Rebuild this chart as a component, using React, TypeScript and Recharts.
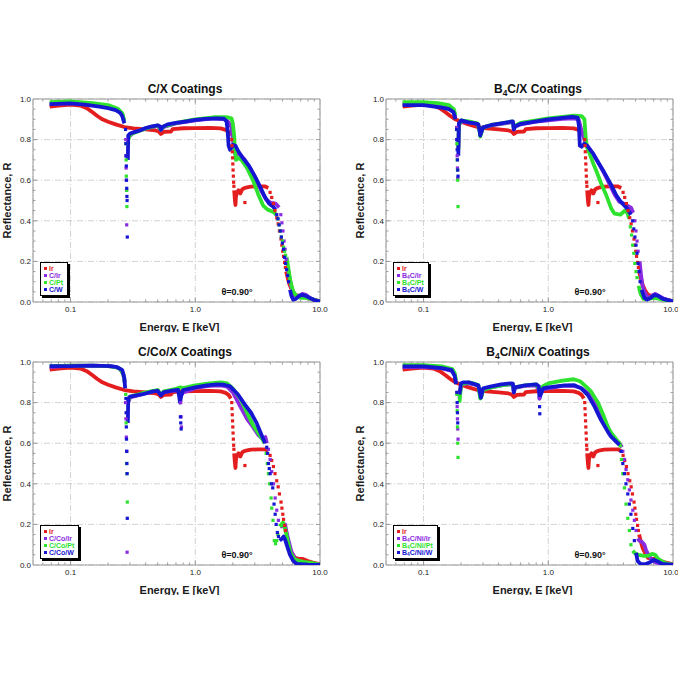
import React from 'react';
import {
  ComposedChart, Line, Scatter, XAxis, YAxis, CartesianGrid,
  ReferenceLine, ReferenceArea, Legend,
} from 'recharts';

type P = [number, number | null];

// ---------- axes (energies in keV; the x axis is drawn in log10 units) ----------
const X_MIN = 0.05;
const X_MAX = 10;
const X_TICKS = [0.1, 1, 10];
const X_TICK_LABELS = ['0.1', '1.0', '10.0'];
const Y_TICKS = [0, 0.2, 0.4, 0.6, 0.8, 1.0];
const X_MINOR = [0.06, 0.07, 0.08, 0.09, 0.2, 0.3, 0.4, 0.5, 0.6, 0.7, 0.8, 0.9, 2, 3, 4, 5, 6, 7, 8, 9];
const Y_MINOR = [0.05, 0.1, 0.15, 0.25, 0.3, 0.35, 0.45, 0.5, 0.55, 0.65, 0.7, 0.75, 0.85, 0.9, 0.95];
const Y_MAJOR_INNER = [0.2, 0.4, 0.6, 0.8];

const RED = '#e41e1e';
const PURPLE = '#8a2be2';
const GREEN = '#2ee22e';
const BLUE = '#1616d2';

// ---------- shared Ir reference ----------
const irLine: P[] = [
  [0.068, 0.962], [0.08, 0.968], [0.1, 0.972], [0.12, 0.968], [0.135, 0.955], [0.15, 0.935], [0.165, 0.915],
  [0.18, 0.9], [0.2, 0.888], [0.23, 0.875], [0.27, 0.862], [0.32, 0.855], [0.4, 0.85], [0.48, 0.845], [0.51, 0.84],
  [0.53, 0.828], [0.56, 0.838], [0.64, 0.84], [0.66, 0.852], [0.8, 0.856], [1.0, 0.857], [1.3, 0.858], [1.6, 0.855],
  [1.75, 0.848], [1.85, 0.838], [1.93, 0.82], [1.96, null],
  [2.05, 0.55], [2.08, 0.5], [2.1, 0.478], [2.12, 0.52], [2.16, 0.54], [2.22, 0.55], [2.3, 0.535], [2.38, 0.555],
  [2.45, 0.56], [2.6, 0.565], [2.8, 0.568], [3.2, 0.57], [3.6, 0.57], [3.85, 0.562], [3.95, null],
  [5.35, 0.15], [5.5, 0.12], [5.7, 0.085], [6.0, 0.055], [6.3, 0.035], [6.8, 0.03], [7.3, 0.03], [8.0, 0.02],
  [9.0, 0.01], [10, 0.004],
];
const irDots: P[] = [
  [1.96, 0.8], [1.97, 0.77], [1.98, 0.74], [1.99, 0.71], [2.0, 0.68], [2.01, 0.65], [2.02, 0.62], [2.03, 0.59],
  [2.04, 0.57], [2.5, 0.49], [3.98, 0.54], [4.1, 0.515], [4.23, 0.485], [4.36, 0.45], [4.5, 0.415], [4.62, 0.385],
  [4.73, 0.35], [4.87, 0.31], [4.95, 0.28], [5.03, 0.25], [5.1, 0.225], [5.2, 0.195], [5.28, 0.17],
];

// ---------- C/X ----------
const cIrLine: P[] = [
  [0.068, 0.975], [0.1, 0.98], [0.15, 0.972], [0.2, 0.96], [0.24, 0.945], [0.26, 0.925], [0.27, 0.89], [0.275, null],
  [0.29, 0.81], [0.32, 0.835], [0.4, 0.855], [0.5, 0.868], [0.53, 0.848], [0.56, 0.862], [0.7, 0.88], [1.0, 0.895],
  [1.4, 0.905], [1.75, 0.9], [1.85, 0.885], [1.95, 0.86], [2.0, 0.8], [2.05, 0.76], [2.1, 0.73], [2.25, 0.73],
  [2.5, 0.7], [2.8, 0.65], [3.1, 0.6], [3.4, 0.545], [3.7, 0.505], [4.0, 0.49], [4.4, 0.485], [4.7, 0.465], [4.8, null],
  [5.5, 0.17], [5.7, 0.12], [5.9, 0.075], [6.1, 0.05], [6.4, 0.03], [6.8, 0.028], [7.2, 0.04], [7.7, 0.035],
  [8.3, 0.02], [9, 0.01], [10, 0.003],
];
const cIrDots: P[] = [
  [0.277, 0.8], [0.278, 0.72], [0.279, 0.66], [0.28, 0.6], [0.281, 0.55], [0.282, 0.38],
  [4.85, 0.43], [4.95, 0.39], [5.05, 0.35], [5.15, 0.3], [5.25, 0.26], [5.35, 0.21],
];
const cPtLine: P[] = [
  [0.068, 0.985], [0.1, 0.988], [0.15, 0.98], [0.2, 0.97], [0.24, 0.952], [0.26, 0.93], [0.27, 0.89], [0.275, null],
  [0.29, 0.8], [0.3, 0.825], [0.4, 0.855], [0.5, 0.87], [0.53, 0.85], [0.56, 0.865], [0.7, 0.882], [1.0, 0.9],
  [1.4, 0.91], [1.8, 0.91], [1.95, 0.905], [2.0, 0.88], [2.05, 0.82], [2.08, 0.74], [2.12, 0.7], [2.2, 0.71],
  [2.35, 0.7], [2.6, 0.66], [2.9, 0.6], [3.2, 0.53], [3.5, 0.475], [3.8, 0.455], [4.2, 0.445], [4.45, 0.43], [4.55, null],
  [5.4, 0.22], [5.6, 0.16], [5.8, 0.1], [6.1, 0.05], [6.5, 0.03], [7.0, 0.02], [7.6, 0.02], [8.5, 0.015],
  [9.3, 0.008], [10, 0.003],
];
const cPtDots: P[] = [
  [0.277, 0.78], [0.279, 0.7], [0.28, 0.62], [0.282, 0.55], [0.283, 0.47],
  [4.6, 0.41], [4.7, 0.38], [4.8, 0.35], [4.9, 0.32], [5.0, 0.3], [5.1, 0.27], [5.2, 0.25], [5.3, 0.23],
];
const cWLine: P[] = [
  [0.068, 0.975], [0.1, 0.978], [0.13, 0.972], [0.17, 0.962], [0.2, 0.955], [0.23, 0.945], [0.25, 0.932],
  [0.26, 0.915], [0.27, 0.88], [0.275, null], [0.288, 0.7], [0.29, 0.82], [0.3, 0.83], [0.33, 0.838], [0.36, 0.845],
  [0.4, 0.857], [0.45, 0.865], [0.5, 0.87], [0.52, 0.866], [0.53, 0.848], [0.545, 0.862], [0.6, 0.875], [0.7, 0.882],
  [0.85, 0.89], [1.0, 0.897], [1.2, 0.902], [1.5, 0.905], [1.7, 0.903], [1.78, 0.89], [1.82, 0.84], [1.85, 0.77],
  [1.9, 0.75], [1.95, 0.76], [2.0, 0.775], [2.1, 0.77], [2.2, 0.745], [2.4, 0.71], [2.7, 0.67], [3.0, 0.62],
  [3.3, 0.57], [3.6, 0.52], [3.9, 0.485], [4.2, 0.47], [4.4, 0.455], [4.45, null],
  [5.75, 0.06], [5.9, 0.03], [6.1, 0.012], [6.4, 0.015], [6.8, 0.03], [7.2, 0.035], [7.7, 0.03], [8.3, 0.02],
  [9, 0.01], [10, 0.003],
];
const cWDots: P[] = [
  [0.276, 0.85], [0.278, 0.78], [0.279, 0.72], [0.28, 0.67], [0.281, 0.6], [0.282, 0.56], [0.283, 0.52],
  [0.284, 0.5], [0.285, 0.32],
  [4.5, 0.43], [4.6, 0.41], [4.7, 0.38], [4.8, 0.35], [4.9, 0.32], [5.0, 0.29], [5.1, 0.26], [5.2, 0.22],
  [5.3, 0.19], [5.4, 0.16], [5.5, 0.13], [5.6, 0.1],
];

// ---------- B4C/X ----------
const bIrLine: P[] = [
  [0.068, 0.98], [0.1, 0.978], [0.13, 0.972], [0.16, 0.96], [0.175, 0.94], [0.18, 0.91], [0.183, null],
  [0.19, 0.76], [0.192, 0.87], [0.2, 0.89], [0.23, 0.885], [0.27, 0.878], [0.28, 0.855], [0.285, 0.825],
  [0.29, 0.835], [0.3, 0.86], [0.35, 0.87], [0.42, 0.878], [0.5, 0.885], [0.52, 0.886], [0.53, 0.85],
  [0.545, 0.865], [0.6, 0.875], [0.8, 0.888], [1.0, 0.895], [1.3, 0.902], [1.6, 0.905], [1.75, 0.9], [1.82, 0.86],
  [1.9, 0.82], [2.0, 0.78], [2.1, 0.76], [2.2, 0.74], [2.5, 0.69], [2.8, 0.635], [3.1, 0.58], [3.4, 0.53],
  [3.7, 0.495], [4.0, 0.485], [4.3, 0.475], [4.6, 0.465], [4.8, 0.44], [4.9, null],
  [5.4, 0.2], [5.55, 0.13], [5.7, 0.08], [5.9, 0.05], [6.3, 0.02], [6.8, 0.03], [7.2, 0.04], [7.7, 0.03],
  [8.5, 0.015], [10, 0.003],
];
const bIrDots: P[] = [
  [0.184, 0.86], [0.185, 0.8], [0.186, 0.72], [0.187, 0.66], [0.188, 0.61],
  [4.95, 0.4], [5.05, 0.35], [5.15, 0.3], [5.25, 0.25],
];
const bPtLine: P[] = [
  [0.068, 0.985], [0.1, 0.985], [0.13, 0.98], [0.16, 0.97], [0.175, 0.95], [0.18, 0.92], [0.183, null],
  [0.19, 0.75], [0.192, 0.87], [0.2, 0.895], [0.23, 0.89], [0.27, 0.88], [0.28, 0.85], [0.285, 0.815],
  [0.29, 0.83], [0.3, 0.86], [0.35, 0.872], [0.42, 0.88], [0.5, 0.888], [0.52, 0.888], [0.53, 0.855],
  [0.545, 0.87], [0.6, 0.882], [0.8, 0.895], [1.0, 0.905], [1.3, 0.912], [1.6, 0.918], [1.85, 0.916],
  [1.95, 0.9], [2.0, 0.8], [2.05, 0.76], [2.15, 0.73], [2.3, 0.68], [2.45, 0.64], [2.65, 0.585], [2.9, 0.53],
  [3.2, 0.46], [3.4, 0.435], [3.8, 0.43], [4.1, 0.45], [4.3, 0.44], [4.45, 0.41], [4.5, null],
  [5.3, 0.08], [5.5, 0.04], [5.8, 0.015], [6.3, 0.015], [7.0, 0.02], [7.8, 0.015], [8.5, 0.01], [10, 0.003],
];
const bPtDots: P[] = [
  [0.184, 0.85], [0.185, 0.78], [0.186, 0.7], [0.187, 0.65], [0.188, 0.6], [0.189, 0.47],
  [4.55, 0.37], [4.65, 0.33], [4.75, 0.28], [4.85, 0.24], [4.95, 0.19], [5.05, 0.15], [5.15, 0.12],
];
const bWLine: P[] = [
  [0.068, 0.97], [0.1, 0.97], [0.14, 0.958], [0.16, 0.95], [0.174, 0.935], [0.18, 0.9], [0.183, null],
  [0.19, 0.72], [0.192, 0.88], [0.2, 0.895], [0.23, 0.885], [0.26, 0.88], [0.275, 0.875], [0.28, 0.85],
  [0.285, 0.82], [0.29, 0.835], [0.3, 0.86], [0.35, 0.872], [0.42, 0.88], [0.5, 0.888], [0.52, 0.89],
  [0.53, 0.85], [0.54, 0.865], [0.6, 0.878], [0.8, 0.89], [1.0, 0.9], [1.3, 0.907], [1.55, 0.912], [1.72, 0.908],
  [1.76, 0.87], [1.79, 0.77], [1.85, 0.765], [1.95, 0.78], [2.05, 0.77], [2.2, 0.745], [2.3, 0.73], [2.5, 0.69],
  [2.8, 0.64], [3.2, 0.576], [3.5, 0.527], [3.8, 0.495], [4.3, 0.46], [4.6, 0.43], [4.7, null],
  [5.6, 0.06], [5.9, 0.02], [6.2, 0.012], [6.6, 0.02], [7.1, 0.035], [7.6, 0.03], [8.3, 0.015], [10, 0.003],
];
const bWDots: P[] = [
  [0.184, 0.85], [0.185, 0.8], [0.186, 0.75], [0.187, 0.7], [0.188, 0.65], [0.189, 0.62],
  [4.75, 0.4], [4.85, 0.36], [4.95, 0.32], [5.05, 0.28], [5.15, 0.24], [5.25, 0.19], [5.35, 0.15], [5.45, 0.1],
];

// ---------- C/Co/X ----------
const coIrLine: P[] = [
  [0.068, 0.975], [0.1, 0.982], [0.15, 0.982], [0.2, 0.98], [0.23, 0.975], [0.25, 0.965], [0.265, 0.94],
  [0.272, 0.9], [0.275, null], [0.29, 0.8], [0.3, 0.825], [0.37, 0.84], [0.46, 0.855], [0.5, 0.86], [0.53, 0.838],
  [0.56, 0.852], [0.65, 0.858], [0.72, 0.86], [0.76, 0.83], [0.8, 0.85], [0.9, 0.86], [1.0, 0.872], [1.3, 0.882],
  [1.6, 0.885], [1.8, 0.878], [2.0, 0.85], [2.3, 0.78], [2.6, 0.72], [2.9, 0.68], [3.2, 0.64], [3.5, 0.62],
  [3.65, 0.63], [3.75, 0.6], [3.8, null],
  [4.8, 0.19], [5.0, 0.19], [5.25, 0.2], [5.4, 0.16], [5.6, 0.12], [5.9, 0.065], [6.3, 0.03], [6.9, 0.015],
  [8, 0.01], [10, 0.002],
];
const coIrDots: P[] = [
  [0.276, 0.8], [0.278, 0.72], [0.28, 0.63], [0.282, 0.56], [0.284, 0.063],
  [0.765, 0.8], [0.77, 0.73], [0.775, 0.68],
  [3.86, 0.57], [3.98, 0.52], [4.1, 0.46], [4.23, 0.4], [4.37, 0.33], [4.5, 0.27], [4.64, 0.22],
];
const coPtLine: P[] = [
  [0.068, 0.98], [0.1, 0.982], [0.15, 0.982], [0.2, 0.98], [0.23, 0.975], [0.25, 0.965], [0.265, 0.94],
  [0.272, 0.9], [0.275, null], [0.29, 0.81], [0.3, 0.83], [0.37, 0.845], [0.46, 0.858], [0.5, 0.862],
  [0.53, 0.84], [0.56, 0.855], [0.7, 0.868], [0.76, 0.875], [0.8, 0.872], [1.0, 0.885], [1.3, 0.895], [1.6, 0.9],
  [1.8, 0.895], [2.0, 0.87], [2.3, 0.82], [2.6, 0.75], [2.9, 0.69], [3.2, 0.65], [3.45, 0.62], [3.6, 0.6],
  [3.65, null],
  [4.75, 0.19], [4.9, 0.2], [5.05, 0.21], [5.25, 0.18], [5.5, 0.12], [5.8, 0.06], [6.2, 0.03], [6.8, 0.02],
  [7.4, 0.015], [8.5, 0.01], [10, 0.002],
];
const coPtDots: P[] = [
  [0.277, 0.84], [0.279, 0.7], [0.281, 0.5], [0.283, 0.45], [0.285, 0.31],
  [3.7, 0.55], [3.78, 0.5], [3.86, 0.45], [3.95, 0.4], [4.05, 0.33], [4.1, 0.28], [4.2, 0.22], [4.3, 0.12],
  [4.4, 0.105], [4.5, 0.12], [4.6, 0.15],
];
const coWLine: P[] = [
  [0.068, 0.98], [0.1, 0.98], [0.15, 0.982], [0.21, 0.98], [0.236, 0.975], [0.26, 0.96], [0.27, 0.92],
  [0.274, 0.87], [0.276, null], [0.288, 0.7], [0.29, 0.82], [0.3, 0.83], [0.37, 0.84], [0.46, 0.855],
  [0.5, 0.858], [0.53, 0.835], [0.56, 0.852], [0.67, 0.86], [0.73, 0.862], [0.755, 0.8], [0.775, 0.84],
  [0.8, 0.862], [1.0, 0.875], [1.24, 0.885], [1.5, 0.89], [1.7, 0.888], [1.9, 0.88], [2.2, 0.84], [2.5, 0.79],
  [2.8, 0.75], [3.1, 0.7], [3.4, 0.64], [3.63, 0.6], [3.7, null],
  [4.75, 0.12], [4.95, 0.13], [5.1, 0.14], [5.25, 0.125], [5.47, 0.09], [5.75, 0.05], [6.1, 0.02], [6.5, 0.005],
  [8, 0.002], [10, 0.001],
];
const coWDots: P[] = [
  [0.278, 0.82], [0.279, 0.75], [0.28, 0.68], [0.281, 0.62], [0.282, 0.56], [0.283, 0.5], [0.284, 0.45],
  [0.285, 0.23], [0.76, 0.73], [0.765, 0.7], [0.77, 0.67],
  [3.74, 0.58], [3.8, 0.55], [3.86, 0.5], [3.92, 0.475], [3.98, 0.45], [4.08, 0.4], [4.18, 0.38], [4.28, 0.3],
  [4.37, 0.25], [4.45, 0.2], [4.55, 0.16], [4.65, 0.14],
];

// ---------- B4C/Ni/X ----------
const niIrLine: P[] = [
  [0.068, 0.975], [0.1, 0.975], [0.14, 0.97], [0.17, 0.955], [0.178, 0.935], [0.182, 0.9], [0.184, null],
  [0.194, 0.82], [0.2, 0.89], [0.23, 0.895], [0.26, 0.888], [0.275, 0.882], [0.285, 0.83], [0.29, 0.83],
  [0.3, 0.865], [0.35, 0.875], [0.42, 0.885], [0.5, 0.89], [0.52, 0.89], [0.53, 0.85], [0.54, 0.872],
  [0.65, 0.882], [0.8, 0.885], [0.84, 0.86], [0.86, 0.84], [0.9, 0.865], [1.0, 0.87], [1.3, 0.882], [1.6, 0.882],
  [1.83, 0.872], [2.1, 0.845], [2.4, 0.8], [2.7, 0.74], [3.0, 0.68], [3.2, 0.64], [3.5, 0.61], [3.72, 0.6],
  [3.9, 0.58], [3.95, null],
  [5.2, 0.13], [5.37, 0.12], [5.6, 0.115], [5.9, 0.1], [6.1, 0.07], [6.5, 0.04], [6.9, 0.02], [7.5, 0.01],
  [10, 0.002],
];
const niIrDots: P[] = [
  [0.185, 0.85], [0.186, 0.78], [0.187, 0.72], [0.188, 0.67], [0.189, 0.62], [0.85, 0.82],
  [3.96, 0.56], [4.08, 0.52], [4.2, 0.47], [4.34, 0.42], [4.47, 0.37], [4.6, 0.32], [4.76, 0.27], [4.9, 0.22],
  [5.06, 0.17],
];
const niPtLine: P[] = [
  [0.068, 0.985], [0.1, 0.985], [0.14, 0.978], [0.17, 0.965], [0.178, 0.945], [0.182, 0.91], [0.184, null],
  [0.194, 0.8], [0.2, 0.89], [0.23, 0.9], [0.26, 0.892], [0.275, 0.885], [0.285, 0.82], [0.29, 0.825],
  [0.3, 0.862], [0.35, 0.875], [0.42, 0.885], [0.5, 0.89], [0.52, 0.89], [0.53, 0.855], [0.54, 0.875],
  [0.65, 0.885], [0.8, 0.89], [0.84, 0.87], [0.86, 0.85], [0.9, 0.88], [1.0, 0.895], [1.3, 0.908], [1.6, 0.915],
  [1.8, 0.905], [2.0, 0.88], [2.2, 0.855], [2.5, 0.8], [2.8, 0.73], [3.0, 0.68], [3.2, 0.65], [3.5, 0.62],
  [3.72, 0.6], [3.8, 0.58], [3.85, null],
  [4.75, 0.07], [5.0, 0.055], [5.3, 0.05], [5.8, 0.045], [6.3, 0.045], [6.8, 0.055], [7.2, 0.05], [7.6, 0.03],
  [8.3, 0.015], [9.2, 0.005], [10, 0.002],
];
const niPtDots: P[] = [
  [0.185, 0.84], [0.186, 0.76], [0.187, 0.68], [0.188, 0.6], [0.189, 0.53],
  [3.86, 0.52], [3.96, 0.45], [4.08, 0.38], [4.2, 0.3], [4.34, 0.23], [4.47, 0.17], [4.6, 0.1],
];
const niWLine: P[] = [
  [0.068, 0.978], [0.1, 0.978], [0.14, 0.97], [0.168, 0.96], [0.178, 0.93], [0.182, 0.89], [0.184, null],
  [0.194, 0.84], [0.2, 0.895], [0.21, 0.9], [0.23, 0.9], [0.26, 0.89], [0.275, 0.885], [0.283, 0.85],
  [0.288, 0.824], [0.3, 0.87], [0.35, 0.88], [0.42, 0.89], [0.5, 0.895], [0.52, 0.893], [0.53, 0.85],
  [0.54, 0.875], [0.65, 0.885], [0.8, 0.89], [0.84, 0.88], [0.85, 0.82], [0.87, 0.84], [0.91, 0.87], [1.0, 0.875],
  [1.35, 0.885], [1.62, 0.886], [1.84, 0.87], [2.08, 0.837], [2.35, 0.78], [2.65, 0.714], [3.0, 0.657],
  [3.19, 0.632], [3.5, 0.608], [3.72, 0.592], [3.8, null],
  [5.06, 0.06], [5.2, 0.02], [5.5, 0.005], [6.0, 0.004], [6.6, 0.015], [7.0, 0.025], [7.4, 0.02], [8.2, 0.005],
  [10, 0.001],
];
const niWDots: P[] = [
  [0.185, 0.85], [0.186, 0.8], [0.187, 0.75], [0.188, 0.7], [0.852, 0.78], [0.855, 0.745],
  [3.83, 0.56], [3.96, 0.5], [4.08, 0.45], [4.2, 0.4], [4.34, 0.35], [4.47, 0.3], [4.6, 0.25], [4.76, 0.18],
  [4.9, 0.12],
];

// ---------- labels ----------
const TITLES = ['C/X Coatings', 'B4C/X Coatings', 'C/Co/X Coatings', 'B4C/Ni/X Coatings'];
const NAMES_C = ['Ir', 'C/Ir', 'C/Pt', 'C/W'];
const NAMES_B = ['Ir', 'B4C/Ir', 'B4C/Pt', 'B4C/W'];
const NAMES_CO = ['Ir', 'C/Co/Ir', 'C/Co/Pt', 'C/Co/W'];
const NAMES_NI = ['Ir', 'B4C/Ni/Ir', 'B4C/Ni/Pt', 'B4C/Ni/W'];
const ANGLE_LABEL = 'θ=0.90°';
const X_LABEL = 'Energy, E [keV]';
const Y_LABEL = 'Reflectance, R';

const FONT = "Arial, 'Liberation Sans', Helvetica, sans-serif";
const COLORS = [RED, PURPLE, GREEN, BLUE];

const lg = (v: number) => Math.log10(v);
const toPts = (a: P[]) => a.map(([e, r]) => ({ lx: lg(e), r }));

type Series = { name: string; color: string; line: P[]; dots: P[] };

function Sub({ text }: { text: string }) {
  const parts = text.split('B4C');
  return (
    <>
      {parts.map((p, i) => (
        <React.Fragment key={i}>
          {i > 0 && (
            <>
              B<span style={{ fontSize: '0.7em', position: 'relative', top: '0.35em' }}>4</span>C
            </>
          )}
          {p}
        </React.Fragment>
      ))}
    </>
  );
}

function LegendBox({ series }: { series: Series[] }) {
  return (
    <div
      style={{
        background: '#fff',
        border: '1px solid #000',
        boxShadow: '2px 2px 0 #000',
        padding: '2px 4px 2px 3px',
        fontFamily: FONT,
        fontWeight: 'bold',
        fontSize: 7,
        lineHeight: '7px',
      }}
    >
      {series.map((s) => (
        <div key={s.name} style={{ color: s.color, whiteSpace: 'nowrap', display: 'flex', alignItems: 'center' }}>
          <span style={{ width: 3, height: 3, background: s.color, display: 'inline-block', marginRight: 2 }} />
          <Sub text={s.name} />
        </div>
      ))}
    </div>
  );
}

const MAJ = 0.022;
const MIN = 0.013;
const DX_MAJ = 4 / 125;
const DX_MIN = 2.5 / 125;
const TICK_STROKE = '#8a8a8a';

function tickLines(prefix: string) {
  const out: React.ReactElement[] = [];
  const xs = [...X_MINOR.map((v) => [v, MIN]), [0.1, MAJ], [1, MAJ]];
  xs.forEach(([v, l], i) => {
    const x = lg(v);
    out.push(<ReferenceLine key={`${prefix}xb${i}`} segment={[{ x, y: 0 }, { x, y: l }]} stroke={TICK_STROKE} strokeWidth={0.8} />);
    out.push(<ReferenceLine key={`${prefix}xt${i}`} segment={[{ x, y: 1 }, { x, y: 1 - l }]} stroke={TICK_STROKE} strokeWidth={0.8} />);
  });
  const ys = [...Y_MINOR.map((v) => [v, DX_MIN]), ...Y_MAJOR_INNER.map((v) => [v, DX_MAJ])];
  ys.forEach(([v, d], i) => {
    out.push(<ReferenceLine key={`${prefix}yl${i}`} segment={[{ x: lg(X_MIN), y: v }, { x: lg(X_MIN) + d, y: v }]} stroke={TICK_STROKE} strokeWidth={0.8} />);
    out.push(<ReferenceLine key={`${prefix}yr${i}`} segment={[{ x: lg(X_MAX), y: v }, { x: lg(X_MAX) - d, y: v }]} stroke={TICK_STROKE} strokeWidth={0.8} />);
  });
  return out;
}

const square = (color: string) => (p: any) =>
  p.cx == null || p.cy == null ? <g /> : <rect x={p.cx - 1.6} y={p.cy - 1.6} width={3.2} height={3.2} fill={color} />;

const H = 243;
const PLOT_W = 287;
const PLOT_H = 203;
const Y_AXIS_W = 33;
const TOP_M = 10;

function YLabel() {
  const cx = 7;
  const cy = TOP_M + PLOT_H / 2;
  return (
    <text
      x={cx} y={cy} transform={`rotate(-90, ${cx}, ${cy})`} textAnchor="middle" dominantBaseline="central"
      style={{ fontSize: 11, fontWeight: 'bold', fill: '#1a1a1a', fontFamily: FONT }}
    >
      {Y_LABEL}
    </text>
  );
}

function XLabel() {
  const cx = Y_AXIS_W + PLOT_W / 2 + 3;
  const cy = TOP_M + PLOT_H + 25;
  return (
    <text
      x={cx} y={cy} textAnchor="middle" dominantBaseline="central"
      style={{ fontSize: 11, fontWeight: 'bold', fill: '#1a1a1a', fontFamily: FONT }}
    >
      {X_LABEL}
    </text>
  );
}

function Panel({ left, top, width, title, series, id }: { left: number; top: number; width: number; title: string; series: Series[]; id: string }) {
  const rightM = width - Y_AXIS_W - PLOT_W;
  return (
    <div style={{ position: 'absolute', left, top, width, height: H }}>
      <div
        style={{
          position: 'absolute', left: 85, top: -7, width: 200, textAlign: 'center',
          fontFamily: FONT, fontWeight: 'bold', fontSize: 12, lineHeight: '14px', color: '#111',
        }}
      >
        <Sub text={title} />
      </div>
      <ComposedChart width={width} height={H} margin={{ top: TOP_M, right: rightM, bottom: 0, left: 0 }}>
        <CartesianGrid stroke="#c6c6c6" strokeDasharray="6 2 1 2" strokeWidth={0.8} />
        <ReferenceArea x1={lg(X_MIN)} x2={lg(X_MAX)} y1={0} y2={1} fill="none" fillOpacity={0} stroke="#9a9a9a" strokeWidth={1} />
        {tickLines(id)}
        <XAxis
          dataKey="lx" type="number" domain={[lg(X_MIN), lg(X_MAX)]} allowDataOverflow ticks={X_TICKS.map(lg)}
          tickFormatter={(v: number) => X_TICK_LABELS[X_TICKS.findIndex((t) => Math.abs(lg(t) - v) < 1e-6)] ?? ''}
          tick={{ fontSize: 8, fill: '#222', fontFamily: FONT }} tickLine={false} axisLine={false}
          tickSize={0} tickMargin={4} height={30}
          label={{ content: () => <XLabel /> }}
        />
        <YAxis
          type="number" domain={[0, 1]} allowDataOverflow ticks={Y_TICKS} width={Y_AXIS_W}
          tickFormatter={(v: number) => v.toFixed(1)}
          tick={{ fontSize: 8, fill: '#222', fontFamily: FONT }} tickLine={false} axisLine={false}
          tickSize={0} tickMargin={2}
          label={{ content: () => <YLabel /> }}
        />
        {series.map((s) => (
          <Line
            key={`l-${s.name}`} data={toPts(s.line)} dataKey="r" name={s.name} stroke={s.color} strokeWidth={3.8}
            dot={false} activeDot={false} isAnimationActive={false} connectNulls={false} type="linear"
            strokeLinejoin="round" legendType="none"
          />
        ))}
        {series.map((s) => (
          <Scatter
            key={`s-${s.name}`} data={toPts(s.dots)} dataKey="r" name={`${s.name} `} fill={s.color}
            shape={square(s.color)} isAnimationActive={false} legendType="none"
          />
        ))}
        <Legend
          verticalAlign="middle" layout="horizontal" align="center"
          wrapperStyle={{ position: 'absolute', left: 40, top: 173, width: 'auto', height: 'auto' }}
          content={() => <LegendBox series={series} />}
        />
      </ComposedChart>
      <div
        style={{
          position: 'absolute', left: 197, top: 197, width: 80, textAlign: 'center',
          fontFamily: FONT, fontWeight: 'bold', fontSize: 9, lineHeight: '12px', color: '#111',
        }}
      >
        {ANGLE_LABEL}
      </div>
    </div>
  );
}

const mk = (names: string[], lines: P[][], dots: P[][]): Series[] =>
  names.map((n, i) => ({ name: n, color: COLORS[i], line: lines[i], dots: dots[i] }));

const SERIES_C = mk(NAMES_C, [irLine, cIrLine, cPtLine, cWLine], [irDots, cIrDots, cPtDots, cWDots]);
const SERIES_B = mk(NAMES_B, [irLine, bIrLine, bPtLine, bWLine], [irDots, bIrDots, bPtDots, bWDots]);
const SERIES_CO = mk(NAMES_CO, [irLine, coIrLine, coPtLine, coWLine], [irDots, coIrDots, coPtDots, coWDots]);
const SERIES_NI = mk(NAMES_NI, [irLine, niIrLine, niPtLine, niWLine], [irDots, niIrDots, niPtDots, niWDots]);

export default function App() {
  return (
    <div style={{ position: 'absolute', left: 0, top: 0, width: 680, height: 680, background: '#fff', overflow: 'hidden' }}>
      <Panel id="a" left={0} top={89} width={330} title={TITLES[0]} series={SERIES_C} />
      <Panel id="b" left={353} top={89} width={325} title={TITLES[1]} series={SERIES_B} />
      <Panel id="c" left={0} top={352} width={330} title={TITLES[2]} series={SERIES_CO} />
      <Panel id="d" left={353} top={352} width={325} title={TITLES[3]} series={SERIES_NI} />
    </div>
  );
}
